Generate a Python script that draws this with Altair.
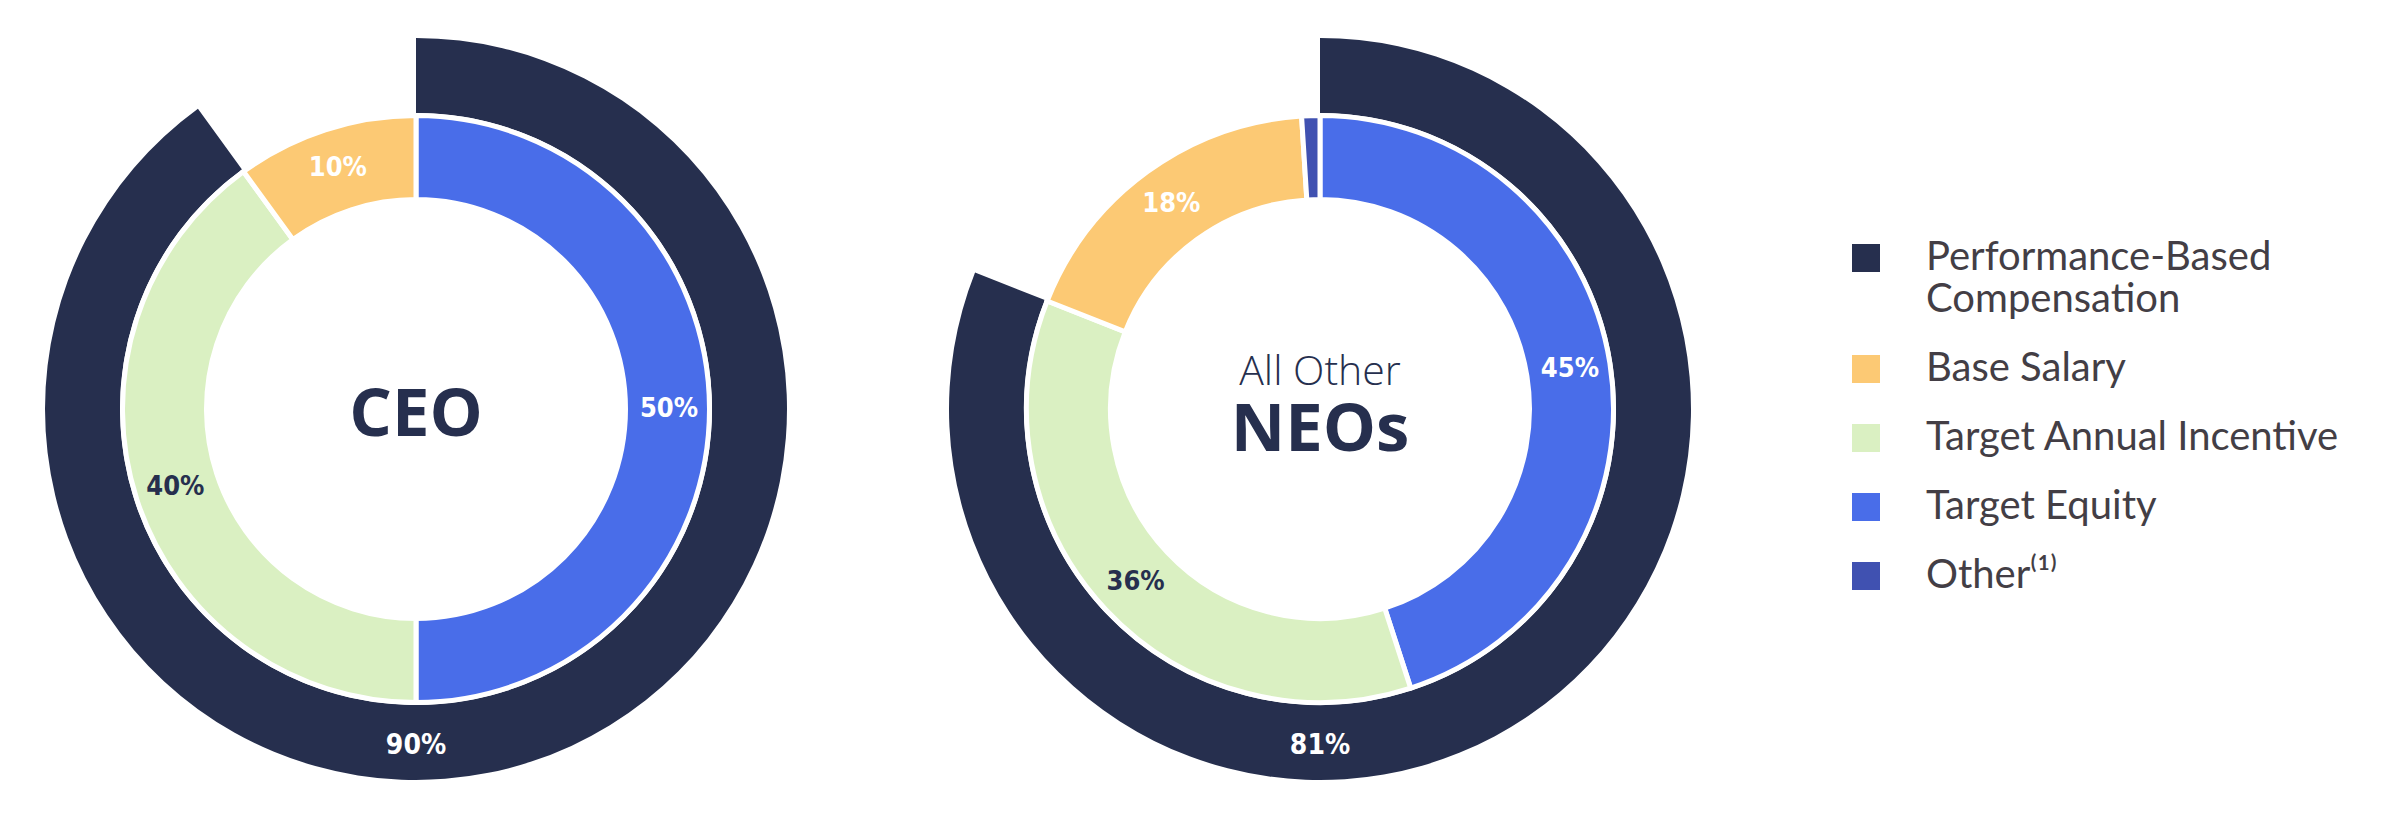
import math
import altair as alt
import pandas as pd

# ---------------- data ----------------
GROUPS = ["CEO", "All Other NEOs"]
INNER_CATEGORIES = ["Target Equity", "Target Annual Incentive", "Base Salary", "Other⁽¹⁾"]
CEO_VALUES = [50, 40, 10, 0]
NEO_VALUES = [45, 36, 18, 1]
PERF_CATEGORY = "Performance-Based Compensation"
PERF_VALUES = [90, 81]
CENTER_TITLES = ["CEO", "NEOs"]
CENTER_SUBTITLES = ["", "All Other"]
LEGEND_ORDER = ["Performance-Based Compensation", "Base Salary",
                "Target Annual Incentive", "Target Equity", "Other⁽¹⁾"]
LEGEND_COLORS = ["#262F4E", "#FCC974", "#DAF0C2", "#496DE9", "#4051B1"]

NAVY = "#262F4E"
COND_FONT = "'Liberation Sans Narrow', 'DejaVu Sans Condensed', 'Roboto Condensed', Roboto, sans-serif"

# ---------------- tables ----------------
rows = []
for g, vals in zip(GROUPS, [CEO_VALUES, NEO_VALUES]):
    cum = 0
    for c, v in zip(INNER_CATEGORIES, vals):
        rows.append({"group": g, "category": c, "value": v, "start": cum,
                     "end": cum + v, "mid": cum + v / 2, "label": f"{v}%"})
        cum += v
inner_df = pd.DataFrame(rows)
inner_df = inner_df[inner_df["value"] > 0]
label_df = inner_df[inner_df["value"] >= 5]

outer_df = pd.DataFrame({
    "group": GROUPS,
    "category": [PERF_CATEGORY] * len(GROUPS),
    "start": [0] * len(GROUPS),
    "end": PERF_VALUES,
    "label": [f"{v}%" for v in PERF_VALUES],
})

title_df = pd.DataFrame({"group": GROUPS, "t": CENTER_TITLES})
sub_df = pd.DataFrame({"group": GROUPS, "t": CENTER_SUBTITLES})
sub_df = sub_df[sub_df["t"] != ""]

# ---------------- encodings ----------------
CY = 401
x_enc = alt.X("group:N", axis=None,
              scale=alt.Scale(type="point", domain=GROUPS, range=[408, 1312], padding=0))
theta_scale = alt.Scale(domain=[0, 100])
color_scale = alt.Scale(domain=LEGEND_ORDER, range=LEGEND_COLORS)

legend = alt.Legend(
    title=None, orient="none", legendX=1838, legendY=230,
    symbolType="square", symbolSize=784, symbolStrokeWidth=0, symbolOpacity=1,
    labelFont="Lato", labelFontSize=40, labelColor="#433E45", labelOffset=40,
    labelLimit=0, rowPadding=29, labelBaseline="middle",
    labelExpr="datum.label == 'Performance-Based Compensation' ? ['Performance-Based', 'Compensation'] : datum.label",
)

outer = alt.Chart(outer_df).mark_arc(innerRadius=296, outerRadius=371).encode(
    x=x_enc, y=alt.value(CY),
    theta=alt.Theta("start:Q", scale=theta_scale),
    theta2="end:Q",
    color=alt.Color("category:N", scale=color_scale, legend=legend),
)

inner = alt.Chart(inner_df).mark_arc(
    innerRadius=209.5, outerRadius=293.5, stroke="white", strokeWidth=5
).encode(
    x=x_enc, y=alt.value(CY),
    theta=alt.Theta("start:Q", scale=theta_scale),
    theta2="end:Q",
    color=alt.Color("category:N", scale=color_scale, legend=legend),
)

inner_labels = alt.Chart(label_df).mark_text(
    radius=253, font=COND_FONT, fontSize=27, fontWeight="bold",
    align="center", baseline="middle",
).encode(
    x=x_enc, y=alt.value(CY),
    theta=alt.Theta("mid:Q", scale=theta_scale),
    text="label:N",
    color=alt.condition(alt.datum.category == "Target Annual Incentive",
                        alt.value(NAVY), alt.value("white")),
)

outer_labels = alt.Chart(outer_df).mark_text(
    radius=337, theta=math.pi, font=COND_FONT, fontSize=28, fontWeight="bold",
    align="center", baseline="middle", color="white",
).encode(x=x_enc, y=alt.value(CY), text="label:N")

title_base = alt.Chart(title_df).mark_text(
    font="Open Sans", fontWeight="bold", fontSize=67, color=NAVY,
    align="center", baseline="alphabetic",
)
title_ceo = title_base.transform_filter(alt.datum.t == "CEO").encode(
    x=x_enc, y=alt.value(CY + 27), text="t:N")
title_neo = title_base.transform_filter(alt.datum.t != "CEO").encode(
    x=x_enc, y=alt.value(CY + 42), text="t:N")

subtitles = alt.Chart(sub_df).mark_text(
    font="Open Sans", fontWeight=300, fontSize=41, color=NAVY,
    align="center", baseline="alphabetic",
).encode(x=x_enc, y=alt.value(CY - 24), text="t:N")

chart = alt.layer(outer, inner, inner_labels, outer_labels, title_ceo, title_neo, subtitles).properties(
    width=2369, height=803, padding=0, autosize="none", background="white",
).configure_view(stroke=None)

chart.save("out.html", embed_options={"renderer": "svg", "actions": False})
